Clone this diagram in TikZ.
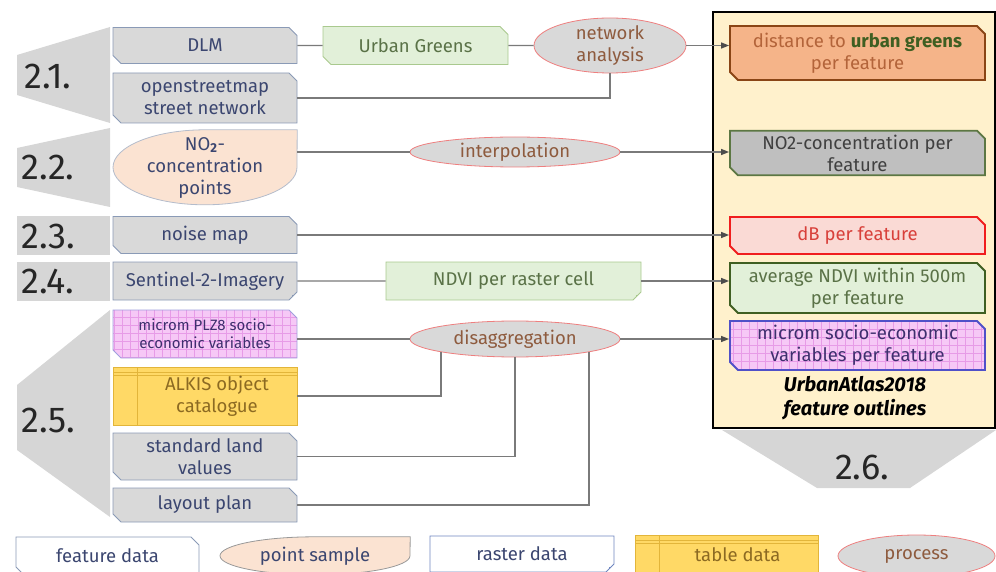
\documentclass[tikz,border=0pt]{standalone}
\usepackage{fontspec}
\setmainfont{Fira Sans}
\usetikzlibrary{arrows.meta, positioning, calc, fit, shapes.misc, shapes.geometric, backgrounds}

\definecolor{boxgrey}{HTML}{D9D9D9}
\definecolor{boxedge}{HTML}{8A9AB6}
\definecolor{boxtext}{HTML}{3B4670}
\definecolor{markgrey}{HTML}{D6D6D6}
\definecolor{greenfill}{HTML}{E2F0D9}
\definecolor{greenedge}{HTML}{A9C98E}
\definecolor{greentext}{HTML}{5A7247}
\definecolor{darkgreen}{HTML}{3F5F22}
\definecolor{procedge}{HTML}{EE7F7F}
\definecolor{proctext}{HTML}{8E5B3E}
\definecolor{peach}{HTML}{FBE3D2}
\definecolor{ptedge}{HTML}{B4BCCB}
\definecolor{orangefill}{HTML}{F5B489}
\definecolor{orangeedge}{HTML}{8A4515}
\definecolor{orangetext}{HTML}{B3643A}
\definecolor{no2grey}{HTML}{BFBFBF}
\definecolor{pinkfill}{HTML}{FADAD5}
\definecolor{dbred}{HTML}{F01E1E}
\definecolor{dbtext}{HTML}{D8403A}
\definecolor{gridfill}{HTML}{F6C8F6}
\definecolor{gridline}{HTML}{E79BE7}
\definecolor{gridedge}{HTML}{5050C8}
\definecolor{plzedge}{HTML}{A0A0DD}
\definecolor{gridtext}{HTML}{3E2F6E}
\definecolor{tabfill}{HTML}{FFD966}
\definecolor{tabedge}{HTML}{E2B53A}
\definecolor{tabtext}{HTML}{8C6A22}
\definecolor{panelfill}{HTML}{FFF1CC}
\definecolor{connline}{HTML}{7A7A7A}
\definecolor{rasedge}{HTML}{6F86C0}

\tikzset{
  txt/.style={inner sep=0pt, align=center, font=\fontsize{18.5}{22}\selectfont},
  featbox/.style={txt, chamfered rectangle, chamfered rectangle corners={north east,south west},
    chamfered rectangle xsep=4pt, chamfered rectangle ysep=4pt,
    draw=boxedge, fill=boxgrey, text=boxtext, line width=0.8pt},
  rasbox/.style={txt, chamfered rectangle, chamfered rectangle corners=south east,
    chamfered rectangle xsep=4pt, chamfered rectangle ysep=4pt,
    draw=boxedge, fill=boxgrey, text=boxtext, line width=0.8pt,
    path picture={\fill[#1] ([xshift=-5pt]path picture bounding box.south east)
      -- ([yshift=5pt]path picture bounding box.south east)
      -- ([xshift=-5pt,yshift=5pt]path picture bounding box.south east) -- cycle;}},
  rasbox/.default=boxedge,
  tabbox/.style={txt, rectangle, draw=tabedge, fill=tabfill, text=tabtext, line width=0.8pt,
    path picture={
      \draw[tabedge, line width=0.8pt] ([yshift=-5pt]path picture bounding box.north west) -- ([yshift=-5pt]path picture bounding box.north east);
      \draw[tabedge, line width=0.8pt] ([yshift=-8pt]path picture bounding box.north west) -- ([yshift=-8pt]path picture bounding box.north east);
      \draw[tabedge, line width=0.8pt] ([xshift=24pt]path picture bounding box.north west) -- ([xshift=24pt]path picture bounding box.south west);}},
  gridbox/.style={fill=gridfill, path picture={
      \draw[gridline, line width=0.5pt, step=8pt] (path picture bounding box.south west) grid (path picture bounding box.north east);}},
  procell/.style={txt, ellipse, draw=procedge, fill=boxgrey, text=proctext, line width=0.8pt},
  ptsample/.style={txt, text=boxtext},
  outbox/.style={featbox, line width=1.8pt, minimum width=255pt},
  panel/.style={chamfered rectangle, chamfered rectangle corners={north east,south west},
    chamfered rectangle xsep=15pt, chamfered rectangle ysep=15pt, inner sep=0pt,
    draw=black, fill=panelfill, line width=2pt},
  marklabel/.style={inner sep=0pt, font=\fontsize{36}{36}\selectfont, text=black!85},
  conn/.style={draw=connline, line width=1.4pt},
  arr/.style={conn, -{Triangle[length=8pt, width=6pt, color=black!70]}},
}

\begin{document}
\begin{tikzpicture}[x=1pt, y=-1pt]
\useasboundingbox (0,0) rectangle (996,572);

% section markers
\fill[markgrey] (17,55) -- (110,27) -- (110,123) -- (17,95) -- cycle;
\fill[markgrey] (17,148) -- (110,128) -- (110,207) -- (17,187) -- cycle;
\fill[markgrey] (17,216) rectangle (110,255);
\fill[markgrey] (17,262) rectangle (110,301);
\fill[markgrey] (17,385) -- (110,310) -- (110,517) -- (17,450) -- cycle;
\fill[markgrey] (722,430) -- (996,430) -- (910,488) -- (817,488) -- cycle;
\node[marklabel] (m21) at (48,76) {2.1.};
\node[marklabel] (m22) at (48,167) {2.2.};
\node[marklabel] (m23) at (48,236) {2.3.};
\node[marklabel] (m24) at (48,281) {2.4.};
\node[marklabel] (m25) at (48,420) {2.5.};
\node[marklabel] (m26) at (862,467) {2.6.};

% UrbanAtlas panel
\node[panel, minimum width=282pt, minimum height=416pt] (atlas) at (854,220) {};
\node[txt, font=\fontsize{20}{24}\selectfont\bfseries\itshape] (atlastext) at (855,398) {UrbanAtlas2018\\feature outlines};

% input data
\node[featbox, minimum width=184pt, minimum height=36pt] (dlm) at (205,45.5) {DLM};
\node[featbox, minimum width=184pt, minimum height=50pt] (osm) at (205,98) {openstreetmap\\street network};
\node[ptsample, minimum width=184pt, minimum height=75pt] (no2pt) at (205,167.5) {NO\textsubscript{\textbf{2}}-\\concentration\\points};
\node[featbox, minimum width=184pt, minimum height=37pt] (noise) at (205,235) {noise map};
\node[rasbox, minimum width=184pt, minimum height=38pt] (sentinel) at (205,281) {Sentinel-2-Imagery};
\node[featbox, gridbox, draw=plzedge, text=gridtext, font=\fontsize{15}{18}\selectfont,
  minimum width=184pt, minimum height=48pt] (plz8) at (205,334) {microm PLZ8 socio-\\economic variables};
\node[tabbox, minimum width=184pt, minimum height=58pt] (alkis) at (205,396) {\hspace*{24pt}ALKIS object\\\hspace*{24pt}catalogue};
\node[featbox, minimum width=184pt, minimum height=47pt] (landval) at (205,456.5) {standard land\\values};
\node[featbox, minimum width=184pt, minimum height=34pt] (layout) at (205,505) {layout plan};

% processing
\node[featbox, fill=greenfill, draw=greenedge, text=greentext, minimum width=185pt, minimum height=38pt] (ugreen) at (415.5,45.5) {Urban Greens};
\node[procell, inner ysep=-2pt, minimum width=152pt, minimum height=55pt] (netana) at (610,45.5) {network\\analysis};
\node[procell, minimum width=210pt, minimum height=30pt] (interp) at (515,152) {interpolation};
\node[rasbox=greenedge, fill=greenfill, draw=greenedge, text=greentext, minimum width=255pt, minimum height=38pt] (ndviras) at (513.5,281) {NDVI per raster cell};
\node[procell, minimum width=210pt, minimum height=36pt] (disagg) at (515,339) {disaggregation};

% results per feature
\node[outbox, fill=orangefill, draw=orangeedge, text=orangetext, minimum height=54pt] (dist) at (857.5,53) {distance to \textcolor{darkgreen}{\textbf{urban greens}}\\per feature};
\node[outbox, fill=no2grey, draw=darkgreen!85, text=black!75, minimum height=44pt] (no2ft) at (857.5,153) {NO2-concentration per\\feature};
\node[outbox, fill=pinkfill, draw=dbred, text=dbtext, minimum height=37pt] (db) at (857.5,235.5) {dB per feature};
\node[outbox, fill=greenfill, draw=darkgreen, text=greentext, minimum height=50pt] (ndviavg) at (857.5,288) {average NDVI within 500m\\per feature};
\node[outbox, gridbox, draw=gridedge, text=gridtext, minimum height=49pt] (microm) at (857.5,345.5) {microm socio-economic\\variables per feature};

% legend
\node[featbox, fill=white, minimum width=183pt, minimum height=38pt] (legfeat) at (107.5,556) {feature data};
\node[ptsample, minimum width=190pt, minimum height=38pt] (legpt) at (315,556) {point sample};
\node[rasbox=rasedge, fill=white, draw=rasedge, minimum width=184pt, minimum height=36pt] (legras) at (522,554) {raster data};
\node[tabbox, minimum width=183pt, minimum height=40pt] (legtab) at (726.5,555) {\hspace*{22pt}table data};
\node[procell, minimum width=157pt, minimum height=42pt] (legproc) at (916.5,556) {process};

\begin{scope}[on background layer]
\draw[ptedge, fill=peach, line width=0.8pt] (no2pt.north east) -- (no2pt.north)
  arc[start angle=90, end angle=360, x radius=92pt, y radius=37.5pt] -- cycle;
\draw[black!40, fill=peach, line width=0.8pt] (legpt.north east) -- (legpt.north)
  arc[start angle=90, end angle=360, x radius=95pt, y radius=19pt] -- cycle;
\end{scope}

% connectors
\draw[conn] (dlm) -- (ugreen);
\draw[conn] (ugreen) -- (netana);
\draw[arr] (netana) -- (netana -| dist.west);
\draw[conn] (osm.east) -| (netana.south);
\draw[conn] (interp.west -| no2pt.east) -- (interp.west);
\draw[arr] (interp.east) -- (interp.east -| no2ft.west);
\draw[arr] (noise.east) -- (noise.east -| db.west);
\draw[conn] (sentinel) -- (ndviras);
\draw[arr] (ndviras.east) -- (ndviras.east -| ndviavg.west);
\draw[conn] (disagg.west -| plz8.east) -- (disagg.west);
\draw[arr] (disagg.east) -- (disagg.east -| microm.west);
\draw[conn] (alkis.east) -| (disagg.190);
\draw[conn] (landval.east) -| (disagg.south);
\draw[conn] (layout.east) -| (disagg.350);
\end{tikzpicture}
\end{document}
